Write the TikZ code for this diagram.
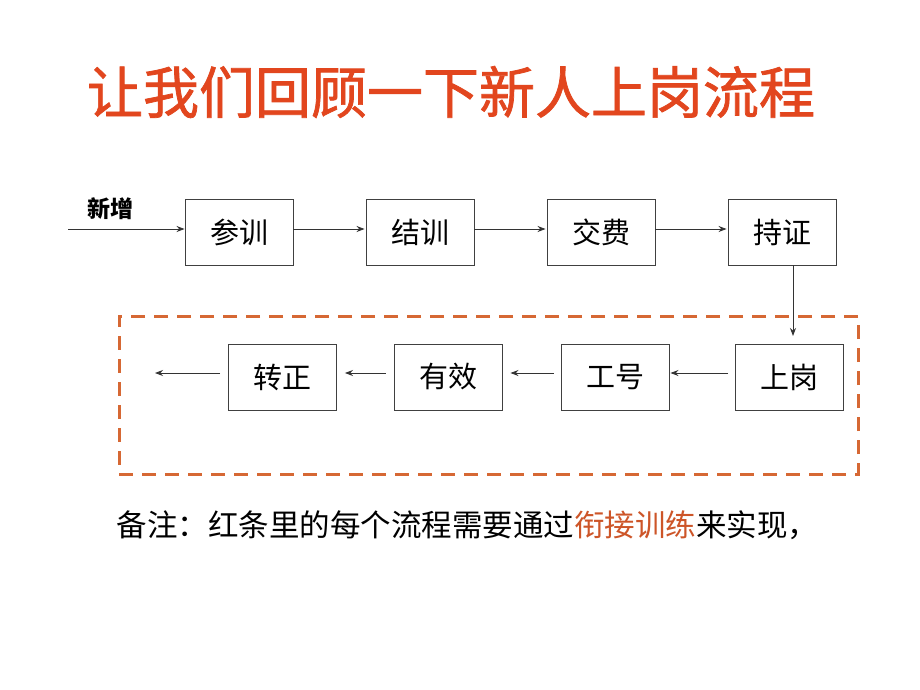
\documentclass[tikz,border=0pt]{standalone}
\usepackage{fontspec}
\setmainfont{Noto Sans CJK SC}
\newfontfamily\cjk{Noto Sans CJK SC}
\newfontfamily\cjkt[FakeBold=1.3]{Noto Sans CJK SC}
\usetikzlibrary{arrows.meta}
\definecolor{titlered}{RGB}{226,70,30}
\definecolor{dashorange}{RGB}{214,104,52}
\definecolor{noteorange}{RGB}{205,85,40}
\tikzset{
  stepbox/.style={draw=black!75, line width=0.9pt, minimum width=108pt, minimum height=66pt, inner sep=0pt, font=\cjk\fontsize{29}{29}\selectfont},
  flow/.style={draw=black!80, line width=0.9pt, -{Stealth[length=8pt,width=6pt]}},
}
\begin{document}
\begin{tikzpicture}[x=1pt,y=-1pt]
\useasboundingbox[fill=white] (0,0) rectangle (920,690);
\node[text=titlered, font=\cjkt\fontsize{56}{56}\selectfont] (title) at (451,92) {让我们回顾一下新人上岗流程};
% top row
\node[stepbox] (a) at (239,232) {参训};
\node[stepbox] (b) at (420,232) {结训};
\node[stepbox] (c) at (601,232) {交费};
\node[stepbox] (d) at (782,232) {持证};
\coordinate (start) at (68,229);
\node[font=\cjk\bfseries\fontsize{23}{23}\selectfont, anchor=center] (xz) at (110,209) {新增};
\draw[flow] (start) -- (a.west |- start);
\draw[flow] (a.east |- start) -- ([xshift=-1pt]b.west |- start);
\draw[flow] (b.east |- start) -- ([xshift=-1pt]c.west |- start);
\draw[flow] (c.east |- start) -- ([xshift=-1pt]d.west |- start);
% dashed frame
\node[draw=dashorange, line width=3pt, dash pattern=on 14pt off 9pt, minimum width=739pt, minimum height=158pt, inner sep=0pt] (frame) at (488.5,395) {};
% second row
\node[stepbox] (e) at (789.5,377) {上岗};
\node[stepbox] (f) at (615,377) {工号};
\node[stepbox] (g) at (448,377) {有效};
\node[stepbox] (h) at (282.5,377) {转正};
\coordinate (endpt) at (155,373);
\draw[flow] (d.south -| 793,0) -- (793,336);
\draw[flow] ([xshift=-7pt]e.west |- endpt) -- ([xshift=1pt]f.east |- endpt);
\draw[flow] ([xshift=-7pt]f.west |- endpt) -- ([xshift=8pt]g.east |- endpt);
\draw[flow] ([xshift=-8pt]g.west |- endpt) -- ([xshift=8pt]h.east |- endpt);
\draw[flow] ([xshift=-8pt]h.west |- endpt) -- (endpt);
% note
\node[anchor=west, font=\cjk\fontsize{30.5}{31}\selectfont] (note) at (113,525) {备注：红条里的每个流程需要通过\textcolor{noteorange}{衔接训练}来实现，};
\end{tikzpicture}
\end{document}
